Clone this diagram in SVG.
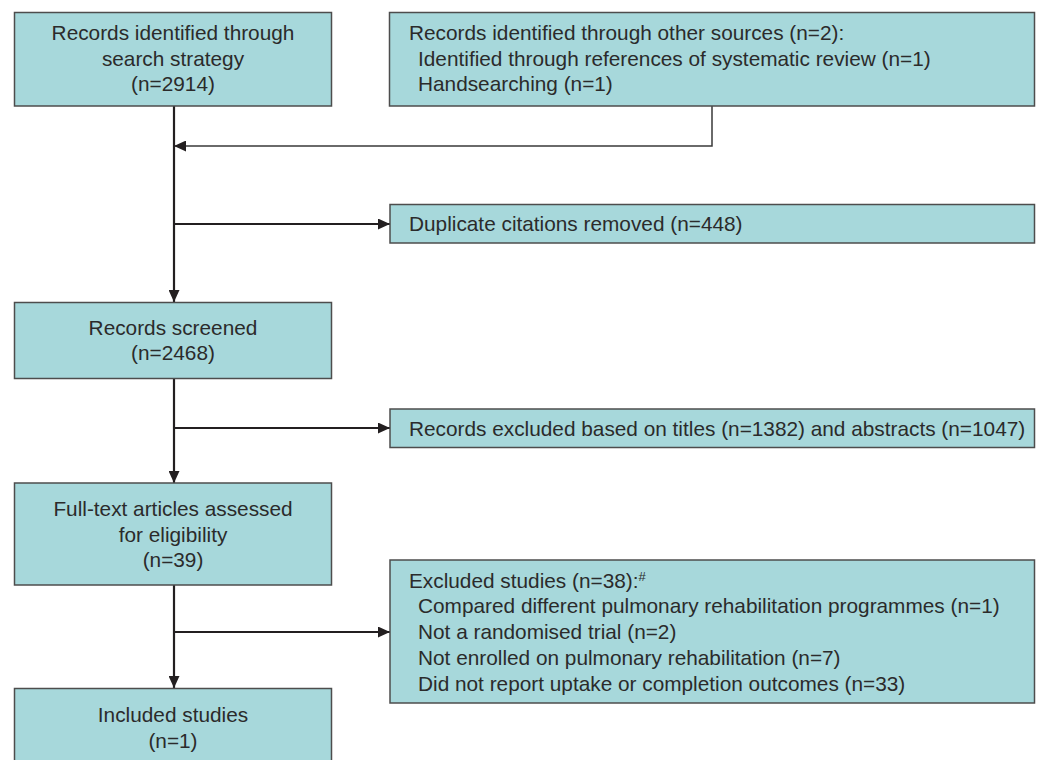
<svg xmlns="http://www.w3.org/2000/svg" width="1038" height="760" viewBox="0 0 1038 760">
<style>
.box{fill:#a7d8db;stroke:#4d4d4d;stroke-width:1.5}
.t{font-family:"Liberation Sans",Arial,sans-serif;font-size:20.8px;fill:#2b2b2b}
.c{text-anchor:middle}
.ln{stroke:#231f20;stroke-width:2.2;fill:none}
.ln2{stroke:#3a3a3a;stroke-width:1.5;fill:none}
</style>
<defs>
<marker id="ah" viewBox="0 0 12 11" refX="12" refY="5.5" markerWidth="12" markerHeight="11" markerUnits="userSpaceOnUse" orient="auto">
<path d="M0,0 L12,5.5 L0,11 Z" fill="#231f20"/>
</marker>
</defs>
<rect x="0" y="0" width="1038" height="760" fill="#ffffff"/>
<g id="connectors">
<path class="ln2" d="M712,106 V146 H174" marker-end="url(#ah)"/>
<path class="ln" d="M174,106 V302" marker-end="url(#ah)"/>
<path class="ln" d="M174,224 H390" marker-end="url(#ah)"/>
<path class="ln" d="M174,378 V483" marker-end="url(#ah)"/>
<path class="ln" d="M174,428 H390" marker-end="url(#ah)"/>
<path class="ln" d="M174,585 V688" marker-end="url(#ah)"/>
<path class="ln" d="M174,632 H390" marker-end="url(#ah)"/>
</g>
<g id="n1">
<rect class="box" x="14.5" y="12.5" width="317" height="93.5"/>
<text class="t c" x="173" y="40">Records identified through</text>
<text class="t c" x="173" y="66">search strategy</text>
<text class="t c" x="173" y="91">(n=2914)</text>
</g>
<g id="n2">
<rect class="box" x="389.5" y="12.5" width="645" height="93.5"/>
<text class="t" x="409" y="40">Records identified through other sources (n=2):</text>
<text class="t" x="418" y="66">Identified through references of systematic review (n=1)</text>
<text class="t" x="418" y="91">Handsearching (n=1)</text>
</g>
<g id="n3">
<rect class="box" x="390" y="204.5" width="644.5" height="38.5"/>
<text class="t" x="409" y="231">Duplicate citations removed (n=448)</text>
</g>
<g id="n4">
<rect class="box" x="14.5" y="302.5" width="317" height="76"/>
<text class="t c" x="173" y="335">Records screened</text>
<text class="t c" x="173" y="360">(n=2468)</text>
</g>
<g id="n5">
<rect class="box" x="390" y="409" width="644.5" height="38.5"/>
<text class="t" x="409" y="436">Records excluded based on titles (n=1382) and abstracts (n=1047)</text>
</g>
<g id="n6">
<rect class="box" x="14.5" y="483" width="317" height="102"/>
<text class="t c" x="173" y="516">Full-text articles assessed</text>
<text class="t c" x="173" y="542">for eligibility</text>
<text class="t c" x="173" y="567">(n=39)</text>
</g>
<g id="n7">
<rect class="box" x="390" y="560" width="644.5" height="143"/>
<text class="t" x="409" y="588">Excluded studies (n=38):<tspan font-size="13" dy="-7">#</tspan></text>
<text class="t" x="418" y="613">Compared different pulmonary rehabilitation programmes (n=1)</text>
<text class="t" x="418" y="639">Not a randomised trial (n=2)</text>
<text class="t" x="418" y="665">Not enrolled on pulmonary rehabilitation (n=7)</text>
<text class="t" x="418" y="691">Did not report uptake or completion outcomes (n=33)</text>
</g>
<g id="n8">
<rect class="box" x="14.5" y="688.5" width="317" height="80"/>
<text class="t c" x="173" y="722">Included studies</text>
<text class="t c" x="173" y="748">(n=1)</text>
</g>
</svg>
